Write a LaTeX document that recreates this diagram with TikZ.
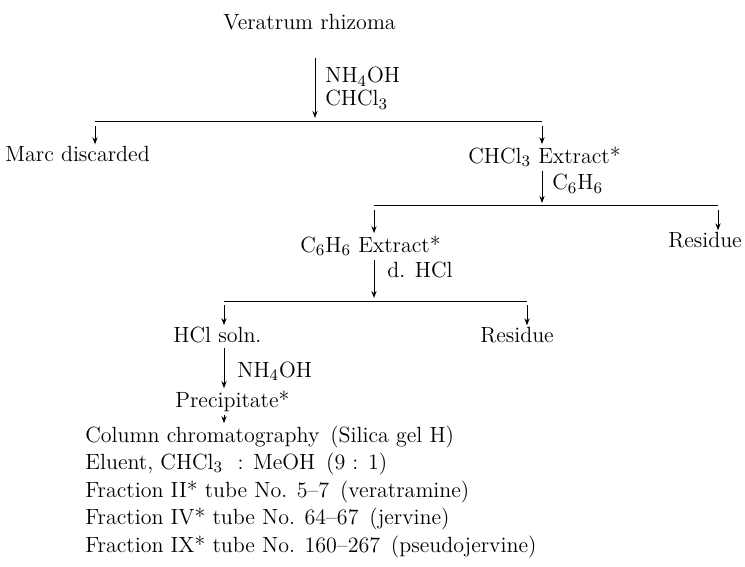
\documentclass[tikz,border=0pt]{standalone}
\usepackage{fontspec}
\usetikzlibrary{arrows.meta, positioning}

\begin{document}
\begin{tikzpicture}[x=0.5pt, y=-0.5pt,
    % Set global font size for consistency
    font=\fontsize{11}{14}\selectfont,
    % Define reusable styles for the parts of the scheme
    txt/.style={inner sep=0pt, anchor=base west},
    lbl/.style={inner sep=0pt, anchor=base west},
    flow/.style={-{Stealth[length=3.5pt, width=2.6pt]}, line width=0.5pt},
    bar/.style={line width=0.5pt}
  ]
  \useasboundingbox (0,0) rectangle (745,567);

  % Starting material and first extraction
  \node[txt] (ver) at (223,30) {Veratrum rhizoma};
  \coordinate (a1) at (315,58);
  \coordinate (b1) at (315,122);
  \coordinate (b1l) at (95,122);
  \coordinate (b1r) at (542,122);
  \draw[flow, shorten >=2pt] (a1) -- (b1);
  \node[lbl] (nh1) at (325,83) {NH$_4$OH};
  \node[lbl] (chl1) at (325,106) {CHCl$_3$};
  \draw[bar] (b1l) -- (b1r);
  \node[txt] (marc) at (5,162) {Marc discarded};
  \node[txt] (chcl) at (468,163) {CHCl$_3$ Extract*};
  \draw[flow, shorten <=2pt, shorten >=1pt] (b1l) -- (b1l |- marc.north);
  \draw[flow, shorten <=2pt, shorten >=1pt] (b1r) -- (b1r |- chcl.north);

  % Benzene extraction
  \coordinate (b2) at (542,206);
  \coordinate (b2l) at (374,206);
  \coordinate (b2r) at (718,206);
  \draw[flow, shorten <=2pt, shorten >=1.5pt] (chcl.south -| b2) -- (b2);
  \node[lbl] (c6) at (552,190) {C$_6$H$_6$};
  \draw[bar] (b2l) -- (b2r);
  \node[txt] (benz) at (300,252) {C$_6$H$_6$ Extract*};
  \node[txt] (res1) at (668,248) {Residue};
  \draw[flow, shorten <=2pt, shorten >=1pt] (b2l) -- (b2l |- benz.north);
  \draw[flow, shorten <=2pt, shorten >=1pt] (b2r) -- (b2r |- res1.north);

  % Acid extraction
  \coordinate (b3) at (374,301);
  \coordinate (b3l) at (224,301);
  \coordinate (b3r) at (527,301);
  \draw[flow, shorten <=2pt, shorten >=1.5pt] (benz.south -| b3) -- (b3);
  \node[lbl] (dhcl) at (387,278) {d. HCl};
  \draw[bar] (b3l) -- (b3r);
  \node[txt] (hcl) at (173,343) {HCl soln.};
  \node[txt] (res2) at (480,343) {Residue};
  \draw[flow, shorten <=2pt, shorten >=1pt] (b3l) -- (b3l |- hcl.north);
  \draw[flow, shorten <=2pt, shorten >=1pt] (b3r) -- (b3r |- res2.north);

  % Precipitation and column
  \node[lbl] (nh2) at (237,377) {NH$_4$OH};
  \node[txt] (prec) at (175,407) {Precipitate*};
  \draw[flow, shorten <=2pt, shorten >=1pt] (hcl.south -| b3l) -- (b3l |- prec.north);
  \foreach \row [count=\i] in {%
      {Column chromatography \,(Silica gel H)},
      {Eluent, CHCl$_3$\ \ : MeOH \,(9 : 1)},
      {Fraction II* tube No. 5--7 \,(veratramine)},
      {Fraction IV* tube No. 64--67 \,(jervine)},
      {Fraction IX* tube No. 160--267 \,(pseudojervine)}}
    \node[txt] (col\i) at (85,{442+27.5*(\i-1)}) {\row};
  \draw[flow, shorten <=1.5pt, shorten >=1pt] (prec.south -| b3l) -- (b3l |- col1.north);

\end{tikzpicture}
\end{document}
